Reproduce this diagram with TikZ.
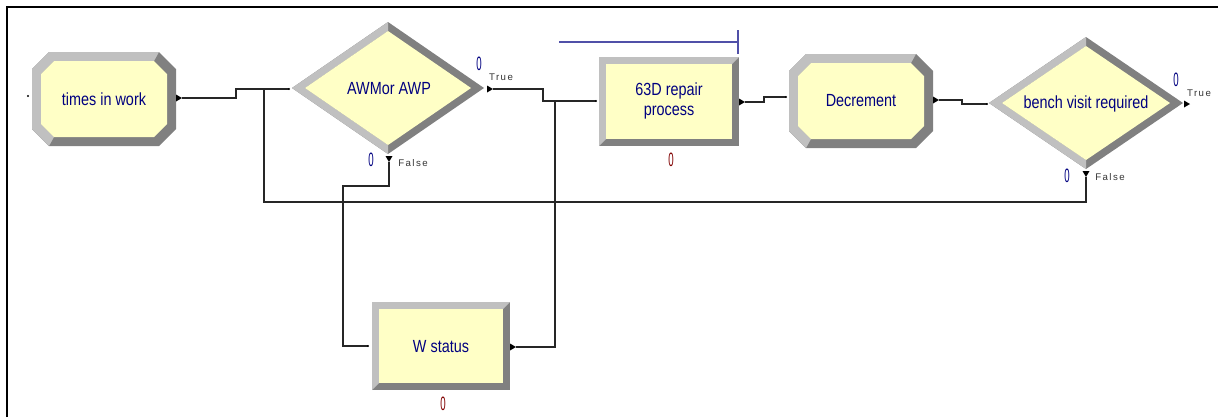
\documentclass[tikz,border=0pt]{standalone}
\usepackage{fontspec}
\setmainfont{Liberation Sans}
\newfontfamily\modfont[FakeStretch=0.82]{Liberation Sans}
\newfontfamily\cntfont[FakeStretch=0.5]{Liberation Sans}
\newfontfamily\lblfont[LetterSpace=15]{Liberation Sans}
\usepackage{tikz}
\usetikzlibrary{arrows.meta,positioning,calc}
\definecolor{arYellow}{HTML}{FFFFC6}
\definecolor{arLight}{HTML}{C0C0C0}
\definecolor{arDark}{HTML}{808080}
\definecolor{arNavy}{HTML}{000080}
\definecolor{arRed}{HTML}{800000}
\definecolor{arLine}{HTML}{5050A8}
\tikzset{
  modtext/.style={font=\modfont\fontsize{10}{11}\selectfont,
    text=arNavy,align=center,inner sep=0pt},
  cntblue/.style={font=\cntfont\fontsize{11}{11}\selectfont,
    text=arNavy,inner sep=0pt},
  cntred/.style={cntblue,text=arRed},
  lbl/.style={font=\lblfont\fontsize{5.5}{6}\selectfont,
    text=black!80,inner sep=0pt},
  conn/.style={draw=black!85,line width=0.6pt},
  exitmark/.style={fill=black},
  frame/.style={line width=1.1pt},
  qline/.style={draw=arLine,line width=0.7pt},
}
% bevelled Arena module shapes (x1,y1,x2,y2 / cx,cy,hw,hh)
\newcommand{\arOct}[4]{%
  \fill[arDark] ({#1+17},#2) -- ({#3-17},#2) -- (#3,{#2+17}) -- (#3,{#4-17})
    -- ({#3-17},#4) -- ({#1+17},#4) -- (#1,{#4-17}) -- (#1,{#2+17}) -- cycle;
  \fill[arLight] ({#1+17},#4) -- (#1,{#4-17}) -- (#1,{#2+17}) -- ({#1+17},#2)
    -- ({#3-17},#2) -- ({#3-22},{#2+9}) -- ({#1+22},{#2+9}) -- ({#1+9},{#2+22})
    -- ({#1+9},{#4-22}) -- ({#1+22},{#4-9}) -- cycle;
  \fill[arYellow] ({#1+22},{#2+9}) -- ({#3-22},{#2+9}) -- ({#3-9},{#2+22})
    -- ({#3-9},{#4-22}) -- ({#3-22},{#4-9}) -- ({#1+22},{#4-9})
    -- ({#1+9},{#4-22}) -- ({#1+9},{#2+22}) -- cycle;
}
\newcommand{\arRect}[4]{%
  \fill[arDark] (#1,#2) rectangle (#3,#4);
  \fill[arLight] (#1,#4) -- (#1,#2) -- (#3,#2) -- ({#3-7},{#2+7})
    -- ({#1+7},{#2+7}) -- ({#1+7},{#4-7}) -- cycle;
  \fill[arYellow] ({#1+7},{#2+7}) rectangle ({#3-7},{#4-7});
}
\newcommand{\arDia}[4]{%
  \fill[arDark] ({#1-#3},#2) -- (#1,{#2-#4}) -- ({#1+#3},#2) -- (#1,{#2+#4}) -- cycle;
  \fill[arLight] ({#1-#3},#2) -- (#1,{#2-#4}) -- (#1,{#2-#4+9}) -- ({#1-#3+13},#2)
    -- (#1,{#2+#4-9}) -- (#1,{#2+#4}) -- cycle;
  \fill[arYellow] ({#1-#3+13},#2) -- (#1,{#2-#4+9}) -- ({#1+#3-13},#2)
    -- (#1,{#2+#4-9}) -- cycle;
}

\begin{document}
\begin{tikzpicture}[x=0.02cm,y=-0.02cm]
  \useasboundingbox (0,0) rectangle (1218,417);
  \draw[frame] (7,417) -- (7,7) -- (1218,7);

  % Create -- times in work
  \arOct{32}{52}{176}{146}
  \node[modtext] (tiw) at (104,99) {times in work};
  \coordinate (tiw-in) at (28,96);
  \coordinate (tiw-out) at (182,98);

  % Decide -- AWM or AWP
  \arDia{388}{88}{96}{66}
  \node[modtext] (awm) at (389,89) {AWMor AWP};
  \coordinate (awm-in) at (289,89);
  \coordinate (awm-true) at (493,89);
  \coordinate (awm-false) at (389,162);
  \node[cntblue] (awm-c1) at (479,64) {0};
  \node[lbl] (awm-t) at (501,77) {True};
  \node[cntblue] (awm-c2) at (371,160) {0};
  \node[lbl] (awm-f) at (413,163) {False};

  % Process -- 63D repair process
  \arRect{599}{57}{739}{146}
  \node[modtext] (rep) at (669,101) {63D repair\\process};
  \coordinate (rep-in) at (596,101);
  \coordinate (rep-out) at (745,102);
  \node[cntred] (rep-c) at (671,160) {0};
  \draw[qline] (559,42) -- (738,42) (738,30) -- (738,54);

  % Assign -- Decrement
  \arOct{789}{54}{933}{148}
  \node[modtext] (dec) at (861,101) {Decrement};
  \coordinate (dec-in) at (786,97);
  \coordinate (dec-out) at (939,100);

  % Decide -- bench visit required
  \arDia{1086}{103}{97}{66}
  \node[modtext] (bvr) at (1086,104) {bench visit required};
  \coordinate (bvr-in) at (987,104);
  \coordinate (bvr-true) at (1190,104);
  \coordinate (bvr-false) at (1086,177);
  \node[cntblue] (bvr-c1) at (1176,80) {0};
  \node[lbl] (bvr-t) at (1199,93) {True};
  \node[cntblue] (bvr-c2) at (1067,176) {0};
  \node[lbl] (bvr-f) at (1110,177) {False};

  % Process -- W status
  \arRect{372}{302}{510}{390}
  \node[modtext] (ws) at (441,347) {W status};
  \coordinate (ws-in) at (368,346);
  \coordinate (ws-out) at (516,347);
  \node[cntred] (ws-c) at (443,404) {0};

  % junction points
  \coordinate (join1) at (264,89);
  \coordinate (join2) at (555,101);

  % connectors
  \draw[conn] (tiw-out) -- ++(54,0) |- (awm-in);
  \draw[conn] (awm-true) -- ++(50,0) |- (rep-in);
  \draw[conn] (awm-false) -- ++(0,24) -- ++(-46,0) |- (ws-in);
  \draw[conn] (ws-out) -| (join2);
  \draw[conn] (rep-out) -- ++(19,0) |- (dec-in);
  \draw[conn] (dec-out) -- ++(23,0) |- (bvr-in);
  \draw[conn] (bvr-false) -- ++(0,25) -| (join1);

  % exit arrows and entry dots
  \foreach \p in {tiw-out,awm-true,rep-out,dec-out,bvr-true,ws-out}
    \fill[exitmark] (\p) -- ++(-6,-3.5) -- ++(0,7) -- cycle;
  \foreach \p in {awm-false,bvr-false}
    \fill[exitmark] (\p) -- ++(-3.5,-6) -- ++(7,0) -- cycle;
  \foreach \p in {tiw-in,awm-in,rep-in,dec-in,bvr-in,ws-in}
    \fill (\p) circle (0.7pt);
\end{tikzpicture}
\end{document}
